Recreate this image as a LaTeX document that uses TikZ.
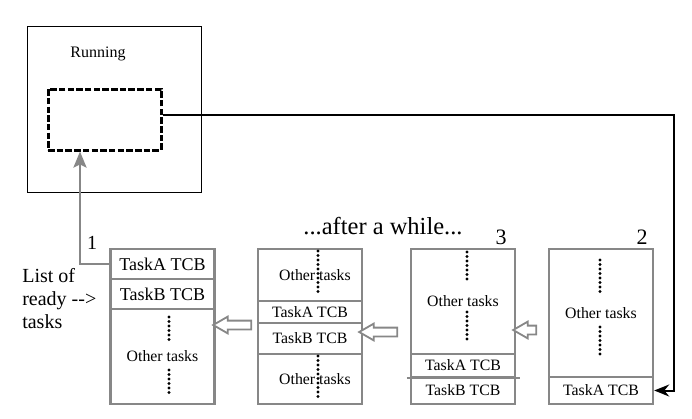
\documentclass[tikz,border=0pt]{standalone}
\usepackage{fontspec}
\setmainfont{Liberation Serif}
\usetikzlibrary{arrows,arrows.meta,shapes}
\newcommand\fs[1]{\fontsize{#1}{#1}\selectfont}
\definecolor{slot_gray}{RGB}{135,135,135}

\begin{document}
\begin{tikzpicture}[x=1pt,y=-1pt,semithick]
    \tikzstyle{slot}=[draw=slot_gray, line width=2.4pt, inner sep=0pt, minimum width=104pt, text=black, font=\fs{15.8}]
    \tikzstyle{bigslot}=[style=slot, font=\fs{18}]
    \tikzstyle{dots}=[line width=3.2pt, line cap=round, dash pattern=on 0pt off 4.5pt]
    \tikzstyle{hollow}=[single arrow, draw=slot_gray, line width=1.8pt, fill=white, shape border rotate=180, inner sep=3.5pt, single arrow head extend=4pt, single arrow tip angle=60]
    \useasboundingbox (0,0) rectangle (692,418);

    % running state
    \node[draw, line width=0.8pt, minimum width=174pt, minimum height=166pt] (run) at (114,109) {};
    \node (runlbl) at (98,54) {\fs{16}Running};
    \node[draw, line width=3pt, dash pattern=on 6.5pt off 2.2pt, minimum width=113pt, minimum height=61pt] (cur) at (104.5,119.5) {};

    % list 1
    \node[bigslot, minimum height=30pt] (a1) at (162.5,264)   {TaskA TCB};
    \node[bigslot, minimum height=30pt] (b1) at (162.5,294)   {TaskB TCB};
    \node[slot,    minimum height=95pt] (o1) at (162.5,356.5) {Other tasks};

    % list 2
    \node[slot, minimum height=52pt] (o2a) at (310,275)   {\hspace*{10pt}Other tasks};
    \node[slot, minimum height=22pt] (a2)  at (310,312)   {TaskA TCB};
    \node[slot, minimum height=31pt] (b2)  at (310,338.5) {TaskB TCB};
    \node[slot, minimum height=50pt] (o2b) at (310,379)   {\hspace*{10pt}Other tasks};

    % list 3
    \node[slot, minimum height=105pt] (o3) at (463,301.5) {Other tasks};
    \node[slot, minimum height=23pt]  (a3) at (463,365.5) {TaskA TCB};
    \node[slot, minimum height=27pt]  (b3) at (463,390.5) {TaskB TCB};
    \draw[slot_gray, line width=2.4pt] ([xshift=-3pt]a3.south west) -- ([xshift=4pt]a3.south east);

    % list 4
    \node[slot, minimum height=128pt] (o4) at (601,313)   {Other tasks};
    \node[slot, minimum height=27pt]  (a4) at (601,390.5) {TaskA TCB};

    % dots
    \draw[dots] (169,317) -- (169,343);
    \draw[dots] (169,370) -- (169,397);
    \draw[dots] (318,251) -- (318,295);
    \draw[dots] (318,356) -- (318,399);
    \draw[dots] (467,252) -- (467,283);
    \draw[dots] (467,312) -- (467,343);
    \draw[dots] (600,260) -- (600,292);
    \draw[dots] (600,327) -- (600,358);

    % shifts between lists
    \node[hollow, minimum height=38pt] (s1) at (236,325)   {};
    \node[hollow, minimum height=38pt] (s2) at (382,332)   {};
    \node[hollow, minimum height=23pt] (s3) at (528.5,330) {};

    % labels
    \node (n1)   at (92,243)  {\fs{20}1};
    \node (n3)   at (501,237) {\fs{22}3};
    \node (n2)   at (642,237) {\fs{22}2};
    \node (wait) at (383,226) {\fs{24.5}...after a while...};
    \node[anchor=west, align=left, inner sep=0pt, font=\fs{20}, text height=14pt] (ready) at (22,322)
        {List of\\[3pt]ready -\kern0pt-\kern0pt>\\[3pt]tasks};

    % connectors
    \coordinate (corner) at (674,115);
    \coordinate (tap) at (80,0);
    \draw[-{Stealth[length=15pt,width=12pt]}, line width=2pt] (cur.east |- corner) -- (corner) |- (a4.east);
    \draw[-{Stealth[length=16pt,width=13pt,inset=3pt]}, slot_gray, line width=2.4pt] (a1.west) -| (tap |- cur.south);
\end{tikzpicture}
\end{document}
